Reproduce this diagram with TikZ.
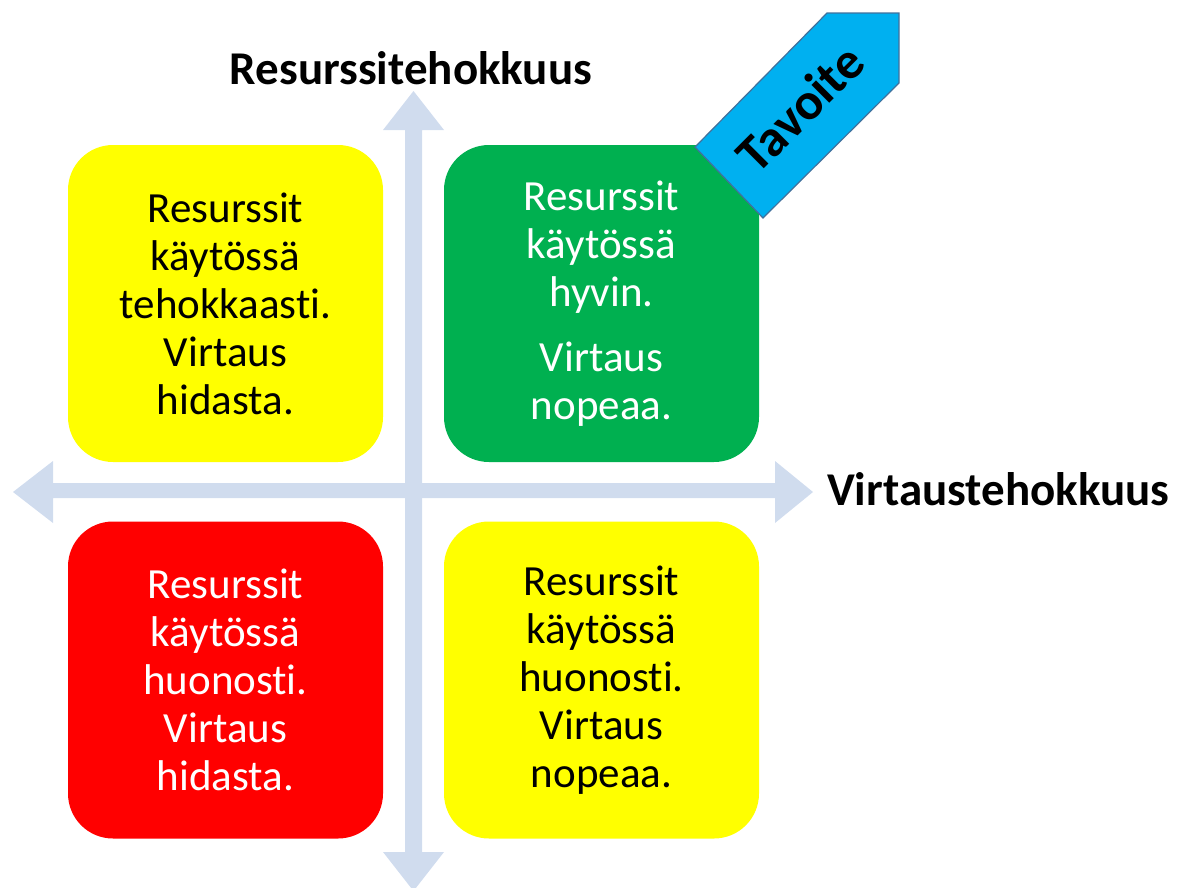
\documentclass[tikz,border=0pt]{standalone}
\usepackage{fontspec}
\setmainfont[Ligatures=NoCommon]{Carlito}
\definecolor{axisblue}{HTML}{D0DCEE}
\definecolor{quadyellow}{HTML}{FFFF00}
\definecolor{quadgreen}{HTML}{00B050}
\definecolor{quadred}{HTML}{FF0000}
\definecolor{goalcyan}{HTML}{00B0F0}
\definecolor{goalline}{HTML}{41719C}
\begin{document}
\begin{tikzpicture}[x=1pt,y=-1pt,
  quad/.style={rounded corners=45pt, minimum width=315pt, minimum height=317pt,
    inner sep=0pt, align=center, font=\fontsize{43}{48}\selectfont},
  axislabel/.style={font=\fontsize{47}{52}\selectfont\bfseries, inner sep=0pt},
  axisarrow/.style={fill=axisblue, draw=none}]
\useasboundingbox (0,0) rectangle (1192,887);

% axes: vertical double arrow and horizontal double arrow
\fill[axisarrow] (405,130) -- (383,130) -- (413.5,91) -- (444,130) -- (422,130)
  -- (422,852) -- (444,852) -- (413.5,891) -- (383,852) -- (405,852) -- cycle;
\fill[axisarrow] (53,483) -- (53,461) -- (13,492) -- (53,523) -- (53,498)
  -- (775,498) -- (775,523) -- (813,492) -- (775,461) -- (775,483) -- cycle;

% axis labels
\node[axislabel] (yl) at (411,68) {Resurssitehokkuus};
\node[axislabel, anchor=west] (xl) at (827,489) {Virtaustehokkuus};

% quadrants
\node[quad, fill=quadyellow] (tl) at (225.5,303.5)
  {Resurssit\\käytössä\\tehokkaasti.\\Virtaus\\hidasta.};
\node[quad, fill=quadgreen, text=white] (tr) at (601.5,303.5)
  {Resurssit\\käytössä\\hyvin.\\[17pt]Virtaus\\nopeaa.};
\node[quad, fill=quadred, text=white] (bl) at (225.5,680)
  {Resurssit\\käytössä\\huonosti.\\Virtaus\\hidasta.};
\node[quad, fill=quadyellow] (br) at (601.5,680)
  {Resurssit\\käytössä\\huonosti.\\Virtaus\\nopeaa.};

% goal arrow pointing to the upper right corner
\filldraw[fill=goalcyan, draw=goalline, line width=1.2pt]
  (695,147) -- (827,13) -- (899,13) -- (899,83) -- (763,218) -- cycle;
\node[rotate=45, font=\fontsize{52}{56}\selectfont\bfseries, inner sep=0pt]
  (goal) at (800,108) {Tavoite};
\end{tikzpicture}
\end{document}
